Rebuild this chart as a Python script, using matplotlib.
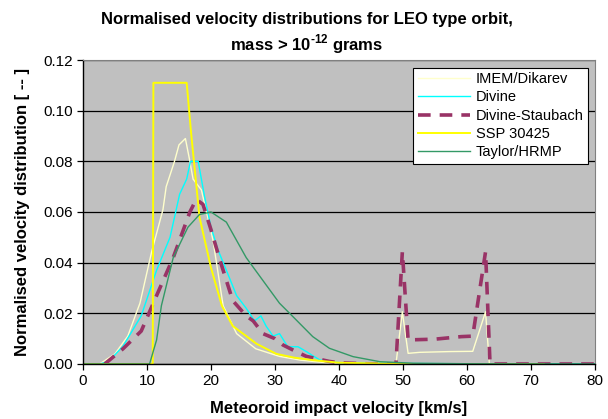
import matplotlib
matplotlib.use("Agg")
import matplotlib.pyplot as plt

plt.rcParams['font.family'] = ['Liberation Sans', 'DejaVu Sans']
plt.rcParams['mathtext.fontset'] = 'custom'
plt.rcParams['mathtext.rm'] = 'Liberation Sans:bold'
plt.rcParams['mathtext.bf'] = 'Liberation Sans:bold'

# velocity [km/s] and normalised distribution values
imem_v = [2.6, 5, 7.0, 8.9, 10.7, 12.5, 13.0, 14.3, 15.0, 16.0, 16.7, 17.2, 18.5,
          20.3, 21.9, 24, 27, 30.7, 34, 38, 45, 48.9, 49.9, 50.8, 52.6, 57.3,
          60.9, 62.9, 63.5, 70]
imem_y = [0, 0.004, 0.011, 0.024, 0.044, 0.061, 0.070, 0.080, 0.0865, 0.089, 0.080,
          0.073, 0.0687, 0.049, 0.023, 0.012, 0.006, 0.003, 0.0015, 0.0005, 0, 0,
          0.0206, 0.0042, 0.0046, 0.0049, 0.005, 0.0206, 0, 0]

divine_v = [2.6, 4, 6.25, 9.1, 11.5, 13.6, 15.1, 16.2, 16.8, 18.0, 19.0, 20.0, 21.1,
            22.4, 24, 25.5, 26.8, 27.8, 28.6, 29.7, 30.7, 32, 33.6, 34.9, 35.7, 37,
            40, 50, 60, 70, 80]
divine_y = [0, 0.001, 0.007, 0.019, 0.037, 0.050, 0.067, 0.073, 0.080, 0.080, 0.066,
            0.054, 0.045, 0.037, 0.027, 0.022, 0.017, 0.019, 0.015, 0.011, 0.012,
            0.0068, 0.0068, 0.0049, 0.0036, 0.0016, 0.0005, 0.0002, 0.0001, 0.0001, 0]

staubach_v = [3.4, 6.25, 9.1, 11.5, 14.1, 16.7, 17.7, 18.75, 20.0, 21.4, 23.4, 25.5,
              26.6, 28.1, 30, 31.25, 33.3, 34.9, 38.5, 40, 45, 48.9, 49.9, 50.8, 55,
              59.1, 60.9, 62.9, 63.6, 70, 80]
staubach_y = [0, 0.006, 0.013, 0.027, 0.042, 0.060, 0.065, 0.063, 0.053, 0.041, 0.025,
              0.019, 0.017, 0.012, 0.010, 0.0075, 0.0049, 0.003, 0.001, 0.0005, 0, 0,
              0.0443, 0.0095, 0.0098, 0.0108, 0.011, 0.0443, 0, 0, 0]

ssp_v = [0, 10.9, 11.0, 16.2, 16.9, 18.2, 20.0, 21.7, 23.4, 27.1, 30.2, 33, 36, 40,
         50, 60, 72]
ssp_y = [0, 0, 0.111, 0.111, 0.091, 0.058, 0.038, 0.023, 0.015, 0.008, 0.004, 0.0025,
         0.0015, 0.0005, 0, 0, 0]

taylor_v = [0, 10.4, 11.5, 12.25, 14.1, 16.4, 18.2, 20, 22.4, 25.5, 28.1, 30.7, 32.8,
            35.9, 38.5, 42.2, 46.4, 51.6, 60, 80]
taylor_y = [0, 0, 0.0095, 0.023, 0.042, 0.054, 0.059, 0.060, 0.056, 0.042, 0.033,
            0.024, 0.0187, 0.0108, 0.0062, 0.0029, 0.0009, 0.0003, 0.0001, 0]

fig = plt.figure(figsize=(6.08, 4.19), dpi=100)
ax = fig.add_axes([0.1365, 0.1313, 0.8421, 0.7255])
ax.set_facecolor('#C0C0C0')

ax.plot(imem_v, imem_y, color='#FFFFCC', lw=1.0, label='IMEM/Dikarev')
ax.plot(divine_v, divine_y, color='#00FFFF', lw=1.0, label='Divine')
ax.plot(staubach_v, staubach_y, color='#993366', lw=2.6, linestyle=(0, (3.5, 2.5)),
        label='Divine-Staubach')
ax.plot(ssp_v, ssp_y, color='#FFFF00', lw=1.4, label='SSP 30425')
ax.plot(taylor_v, taylor_y, color='#339966', lw=1.0, label='Taylor/HRMP')

ax.set_xlim(0, 80)
ax.set_ylim(0, 0.12)
ax.set_xticks(range(0, 81, 10))
ax.set_yticks([0, 0.02, 0.04, 0.06, 0.08, 0.10, 0.12])
ax.set_yticklabels(['0.00', '0.02', '0.04', '0.06', '0.08', '0.10', '0.12'])
ax.yaxis.grid(True, color='black', lw=0.9)
ax.set_axisbelow(True)
ax.tick_params(direction='out', length=4, width=0.9, labelsize=11, colors='black')

for s in ['top', 'right']:
    ax.spines[s].set_color('#808080')
for s in ['left', 'bottom']:
    ax.spines[s].set_color('black')
    ax.spines[s].set_linewidth(1.0)

ax.set_xlabel('Meteoroid impact velocity [km/s]', fontsize=12, fontweight='bold', labelpad=9)
ax.set_ylabel('Normalised velocity distribution [ -- ]', fontsize=12, fontweight='bold', labelpad=9)
fig.text(0.505, 0.972, 'Normalised velocity distributions for LEO type orbit,\n'
         r'mass > 10$^{\text{-12}}$ grams', fontsize=12, fontweight='bold',
         ha='center', va='top', linespacing=1.3)

leg = ax.legend(loc='upper right', bbox_to_anchor=(0.987, 0.975), fontsize=10.5,
                frameon=True, fancybox=False, framealpha=1, edgecolor='black',
                handlelength=3.6, handletextpad=0.4, borderpad=0.3, labelspacing=0.3,
                borderaxespad=0)
leg.get_frame().set_linewidth(0.8)

fig.savefig('out.png', dpi=100)
